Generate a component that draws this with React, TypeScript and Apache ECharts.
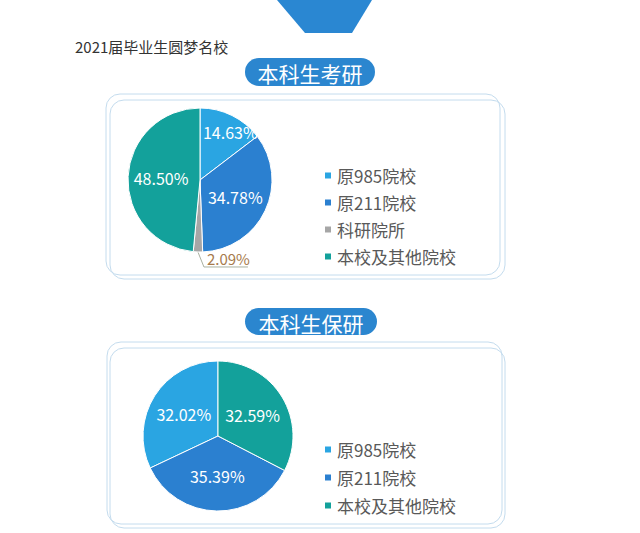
import React, { useEffect, useRef } from "react";
import * as echarts from "echarts";

const names1 = ["原985院校", "原211院校", "科研院所", "本校及其他院校"];
const values1 = [14.63, 34.78, 2.09, 48.5];
const colors1 = ["#2aa5e2", "#2b80d0", "#a6a6a6", "#13a19b"];

const names2 = ["原985院校", "原211院校", "本校及其他院校"];
const values2 = [32.02, 35.39, 32.59];
const colors2 = ["#2aa5e2", "#2b80d0", "#13a19b"];

const pageTitle = "2021届毕业生圆梦名校";
const badge1 = "本科生考研";
const badge2 = "本科生保研";

const FONT = "'Noto Sans CJK SC', 'Noto Sans', sans-serif";
const BADGE = "#2b86cf";
const BOX = "#c4dcee";

export default function App() {
  const ref = useRef<HTMLDivElement>(null);
  useEffect(() => {
    if (!ref.current) return;
    const chart = echarts.init(ref.current, null, { renderer: "svg" });
    const fmt = (p: any) => p.value.toFixed(2) + "%";
    const box = (x: number, y: number, w: number, h: number) => ({
      type: "rect",
      shape: { x, y, width: w, height: h, r: 14 },
      style: { fill: "none", stroke: BOX, lineWidth: 1 },
      silent: true,
    });
    const badge = (x: number, y: number, w: number, h: number, text: string) => ({
      type: "group",
      children: [
        { type: "rect", shape: { x, y, width: w, height: h, r: h / 2 }, style: { fill: BADGE } },
        {
          type: "text",
          x: x + w / 2,
          y: y + h / 2 + 1,
          style: { text, fill: "#fff", font: `21px ${FONT}`, align: "center", verticalAlign: "middle" },
        },
      ],
    });
    chart.setOption({
      animation: false,
      backgroundColor: "#fff",
      graphic: [
        {
          type: "polygon",
          shape: { points: [[277, 0], [372, 0], [352, 33], [305, 33]] },
          style: { fill: "#2a87d2" },
        },
        {
          type: "text",
          x: 75,
          y: 46,
          style: { text: pageTitle, fill: "#333", font: `15px ${FONT}`, verticalAlign: "middle" },
        },
        badge(245, 58, 130, 28, badge1),
        badge(245, 308, 132, 27, badge2),
        box(106, 94, 394, 181),
        box(110, 100, 395, 179),
        box(107, 342, 395, 182),
        box(110, 348, 395, 180),
      ],
      legend: [
        {
          data: names1,
          orient: "vertical",
          left: 323,
          top: 167,
          padding: 0,
          icon: "rect",
          itemWidth: 8,
          itemHeight: 8,
          itemGap: 10,
          selectedMode: false,
          textStyle: { fontSize: 17, color: "#595959", fontFamily: FONT },
        },
        {
          data: names2,
          orient: "vertical",
          left: 323,
          top: 441,
          padding: 0,
          icon: "rect",
          itemWidth: 8,
          itemHeight: 8,
          itemGap: 11,
          selectedMode: false,
          textStyle: { fontSize: 17, color: "#595959", fontFamily: FONT },
        },
      ],
      series: [
        {
          type: "pie",
          center: [200, 180],
          radius: 72,
          startAngle: 90,
          clockwise: true,
          avoidLabelOverlap: false,
          itemStyle: { borderColor: "#fff", borderWidth: 1 },
          label: {
            position: "inside",
            formatter: fmt,
            color: "#fff",
            fontSize: 16,
            fontFamily: FONT,
          },
          labelLine: { show: false },
          data: names1.map((n, i) =>
            i === 2
              ? {
                  name: n,
                  value: values1[i],
                  itemStyle: { color: colors1[i] },
                  label: { position: "outside", color: "#a67a4c", fontSize: 15 },
                  labelLine: { show: true, length: 15, length2: 40, lineStyle: { color: "#a9b0a0", width: 1 } },
                }
              : { name: n, value: values1[i], itemStyle: { color: colors1[i] } }
          ),
          labelLayout: (p: any) => {
            if (p.dataIndex === 0) return { dx: 13, dy: -13 };
            if (p.dataIndex === 2 && p.labelLinePoints) {
              const x0 = p.labelLinePoints[0][0];
              const y0 = p.labelLinePoints[0][1];
              return {
                x: x0 + 9,
                y: y0 + 7,
                align: "left",
                verticalAlign: "middle",
                labelLinePoints: [
                  [x0, y0],
                  [x0 + 6, y0 + 15],
                  [x0 + 50, y0 + 15],
                ],
              };
            }
            return {};
          },
        },
        {
          type: "pie",
          center: [218, 436],
          radius: 75,
          startAngle: 90,
          clockwise: false,
          avoidLabelOverlap: false,
          itemStyle: { borderColor: "#fff", borderWidth: 1 },
          label: {
            position: "inside",
            formatter: fmt,
            color: "#fff",
            fontSize: 16,
            fontFamily: FONT,
          },
          labelLine: { show: false },
          data: names2.map((n, i) => ({ name: n, value: values2[i], itemStyle: { color: colors2[i] } })),
        },
      ],
    });
    return () => chart.dispose();
  }, []);
  return <div ref={ref} style={{ position: "absolute", left: 0, top: 0, width: 640, height: 533 }} />;
}
